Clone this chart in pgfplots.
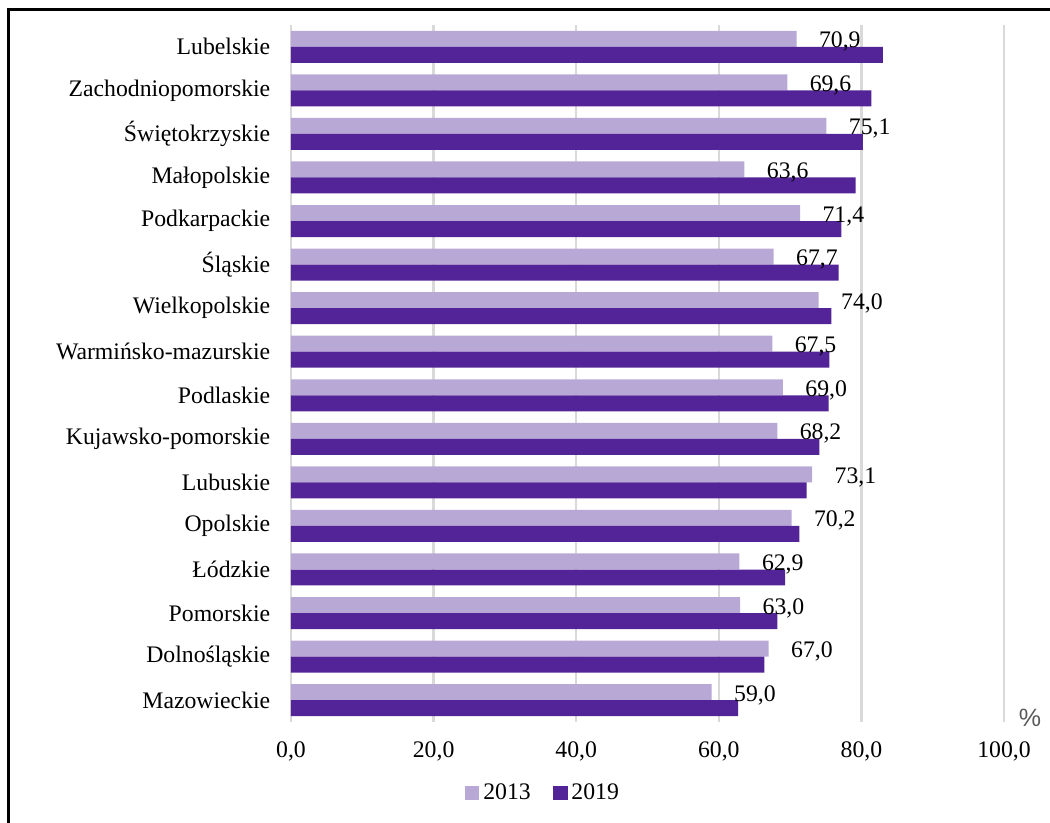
\documentclass[border=0pt]{standalone}
\usepackage{fontspec}
\setmainfont{Liberation Serif}
\newfontfamily\sansf{Liberation Sans}
\usepackage{pgfplots}
\pgfplotsset{compat=1.18}
\definecolor{lightp}{HTML}{B8A8D6}
\definecolor{darkp}{HTML}{522497}
\definecolor{gridc}{HTML}{D9D9D9}
\definecolor{pctc}{HTML}{595959}

% 2013 and 2019 shares, regions from bottom (0) to top (15)
\pgfplotstableread{
idx y2013 y2019
0  59.0 62.7
1  67.0 66.4
2  63.0 68.2
3  62.9 69.3
4  70.2 71.3
5  73.1 72.3
6  68.2 74.1
7  69.0 75.4
8  67.5 75.5
9  74.0 75.8
10 67.7 76.8
11 71.4 77.2
12 63.6 79.2
13 75.1 80.2
14 69.6 81.4
15 70.9 83.0
}\datatable

\begin{document}
\fontsize{9pt}{11pt}\selectfont
\begin{tikzpicture}
\useasboundingbox (0,0) rectangle (14,10.973);
\draw[line width=0.04cm] (0.107,0) -- (0.107,10.84) -- (14,10.84);
\begin{axis}[
  at={(3.88cm,1.347cm)}, anchor=south west,
  width=9.507cm, height=9.293cm, scale only axis,
  xbar, bar width=0.2133cm,
  xmin=0, xmax=100, ymin=-0.5, ymax=15.5,
  xtick={0,20,40,60,80,100}, ytick={0,...,15},
  yticklabels={Mazowieckie,Dolnośląskie,Pomorskie,Łódzkie,Opolskie,Lubuskie,Kujawsko-pomorskie,Podlaskie,Warmińsko-mazurskie,Wielkopolskie,Śląskie,Podkarpackie,Małopolskie,Świętokrzyskie,Zachodniopomorskie,Lubelskie},
  xticklabel={\pgfmathprintnumber[fixed,fixed zerofill,precision=1,use comma,assume math mode=true]{\tick}},
  axis line style={draw=none}, tick style={draw=none},
  xmajorgrids, major grid style={gridc, line width=0.03cm},
  xticklabel style={anchor=north, inner sep=0pt, yshift=-0.26cm},
  yticklabel style={anchor=east, inner sep=0pt, xshift=-0.12cm},
  legend style={at={(0.355,-0.102)}, anchor=center, draw=none, fill=none,
    legend columns=2, /tikz/every even column/.append style={column sep=0.25cm},
    nodes={inner sep=1.5pt}},
]
\addplot[fill=lightp, draw=none, bar shift=0.1067cm,
  legend image code/.code={\fill[lightp] (0cm,-0.093cm) rectangle (0.187cm,0.093cm);},
  nodes near coords={\pgfmathprintnumber[fixed,fixed zerofill,precision=1,use comma,assume math mode=true]{\pgfplotspointmeta}},
  point meta=x,
  every node near coord/.append style={anchor=west, inner sep=0pt, xshift=0.293cm, yshift=-0.04cm, text=black}]
  table[x=y2013, y=idx] {\datatable};
\addlegendentry{2013}
\addplot[fill=darkp, draw=none, bar shift=-0.1067cm,
  legend image code/.code={\fill[darkp] (0cm,-0.093cm) rectangle (0.187cm,0.093cm);}]
  table[x=y2019, y=idx] {\datatable};
\addlegendentry{2019}
\end{axis}
\node[font=\sansf\fontsize{9.5pt}{11pt}\selectfont, text=pctc] at (13.733,1.40) {\%};
\end{tikzpicture}
\end{document}
